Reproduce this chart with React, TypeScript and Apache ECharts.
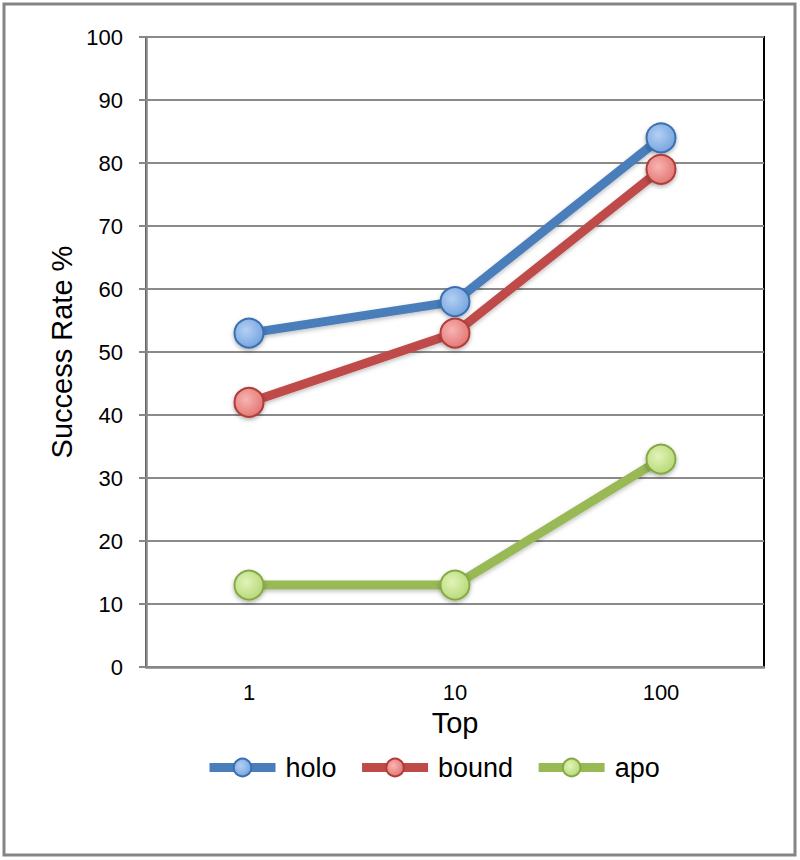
import React, { useEffect, useRef } from "react";
import * as echarts from "echarts";

const categories = ["1", "10", "100"];
const holo = [53, 58, 84];
const bound = [42, 53, 79];
const apo = [13, 13, 33];

function marker(center: string, edge: string) {
  return new echarts.graphic.RadialGradient(0.4, 0.4, 0.7, [
    { offset: 0, color: center },
    { offset: 1, color: edge },
  ]);
}

export default function App() {
  const ref = useRef<HTMLDivElement>(null);
  useEffect(() => {
    if (!ref.current) return;
    const chart = echarts.init(ref.current, undefined, { renderer: "svg" });
    const font = "Liberation Sans, Arial, sans-serif";
    const mk = (name: string, data: number[], line: string, border: string, c1: string, c2: string) => ({
      name,
      type: "line",
      data,
      symbol: "circle",
      symbolSize: 29,
      lineStyle: { width: 9, color: line, shadowColor: "rgba(0,0,0,0.25)", shadowBlur: 4, shadowOffsetY: 2 },
      itemStyle: { color: marker(c1, c2), borderColor: border, borderWidth: 2, shadowColor: "rgba(0,0,0,0.3)", shadowBlur: 4, shadowOffsetY: 2 },
      emphasis: { disabled: true },
    });
    chart.setOption({
      animation: false,
      graphic: [
        {
          type: "rect",
          shape: { x: 4, y: 4, width: 791, height: 851 },
          style: { fill: "none", stroke: "#858585", lineWidth: 3 },
          z: 100,
        },
      ],
      grid: {
        left: 146,
        right: 36,
        top: 37,
        bottom: 193,
        show: true,
        borderColor: "#000",
        borderWidth: 2,
        backgroundColor: "#fff",
      },
      legend: {
        left: 200,
        top: 749,
        itemWidth: 66,
        itemHeight: 22,
        itemGap: 21,
        lineStyle: { width: 9 },
        textStyle: { fontFamily: font, fontSize: 27, color: "#000", padding: [0, 0, 0, 5] },
        data: ["holo", "bound", "apo"],
      },
      xAxis: {
        type: "category",
        data: categories,
        boundaryGap: true,
        name: "Top",
        nameLocation: "middle",
        nameGap: 41,
        nameMoveOverlap: false,
        nameTextStyle: { fontFamily: font, fontSize: 29, color: "#000" },
        axisLine: { lineStyle: { color: "#878787", width: 2.5 } },
        axisTick: { show: false },
        axisLabel: { fontFamily: font, fontSize: 22, color: "#000", margin: 14 },
      },
      yAxis: {
        type: "value",
        min: 0,
        max: 100,
        interval: 10,
        name: "Success Rate %",
        nameLocation: "middle",
        nameGap: 70,
        nameMoveOverlap: false,
        nameTextStyle: { fontFamily: font, fontSize: 29, color: "#000" },
        axisLine: { show: true, lineStyle: { color: "#878787", width: 2.5 } },
        axisTick: { show: true, length: 7, lineStyle: { color: "#878787", width: 2 } },
        axisLabel: { fontFamily: font, fontSize: 22, color: "#000", margin: 23 },
        splitLine: { lineStyle: { color: "#8a8a8a", width: 2 } },
      },
      series: [
        mk("holo", holo, "#4a7ebb", "#3a6fb0", "#b4d0f4", "#6f9fdc"),
        mk("bound", bound, "#be4b48", "#b03c39", "#f8b4b2", "#e0706d"),
        mk("apo", apo, "#98b954", "#86a944", "#e2f3b8", "#b2d672"),
      ],
    });
    return () => chart.dispose();
  }, []);
  return (
    <div
      ref={ref}
      style={{ position: "fixed", left: 0, top: 0, width: 800, height: 860, background: "#fff" }}
    />
  );
}
